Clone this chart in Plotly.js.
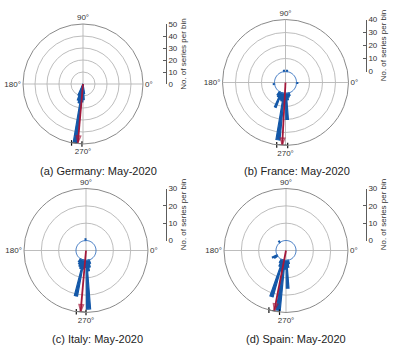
<!DOCTYPE html>
<html>
<head>
<meta charset="utf-8">
<script src="https://cdn.plot.ly/plotly-3.0.1.min.js"></script>
<style>html,body{margin:0;padding:0;background:#fff}#chart{width:404px;height:356px}</style>
</head>
<body>
<div id="chart"></div>
<script>
// ---- data ----
const binWidth = 5; // degrees per bin

const germanyAngles = [247.5, 252.5, 257.5, 262.5, 267.5, 272.5, 277.5];
const germanyCounts = [10, 14, 16, 49, 15, 13, 8];

const franceAngles = [82.5, 97.5, 187.5, 237.5, 242.5, 247.5, 252.5, 257.5, 262.5, 267.5, 272.5, 277.5, 282.5, 287.5, 357.5];
const franceCounts = [1, 1, 1, 3, 4, 12, 5, 6, 36, 8, 20, 5, 3, 2, 1];

const italyAngles = [92.5, 237.5, 242.5, 247.5, 252.5, 257.5, 262.5, 267.5, 272.5, 277.5, 282.5, 287.5];
const italyCounts = [1, 2, 3, 4, 5, 21, 5, 4, 28, 6, 4, 2];

const spainAngles = [127.5, 207.5, 212.5, 242.5, 247.5, 252.5, 257.5, 262.5, 267.5, 272.5, 277.5, 282.5];
const spainCounts = [1, 3, 2, 2, 4, 22, 6, 29, 5, 16, 4, 2];

const countries = ['Germany', 'France', 'Italy', 'Spain'];
const captionLetters = ['a', 'b', 'c', 'd'];
const captionPeriod = 'May-2020';
const scaleMax = [50, 40, 30, 30];          // max of "No. of series per bin"
const meanDirection = [265, 267, 265, 259];  // red arrow angle (deg)
const meanLength = [49, 39.5, 29.5, 29.5];   // red arrow length (count units)
const ciLow = [259, 262, 261, 254];          // black error bar (deg)
const ciHigh = [269, 272, 270, 264];
const angularTicks = [0, 90, 180, 270];
const angularTickText = ['0°', '90°', '180°', '270°'];
const scaleTitle = 'No. of series per bin';

// ---- layout geometry (pixels) ----
const W = 404, H = 356;
const geom = [
  {cx: 83,    cy: 84,    R: 60, holePx: 0,  axisX: 166, capX: 98,  capY: 171},
  {cx: 285.5, cy: 82.5,  R: 63, holePx: 11, axisX: 366, capX: 297, capY: 171},
  {cx: 86,    cy: 250.5, R: 62, holePx: 10, axisX: 166, capX: 97,  capY: 339},
  {cx: 286,   cy: 250.5, R: 62, holePx: 10, axisX: 366, capX: 296, capY: 339}
];
const anglesList = [germanyAngles, franceAngles, italyAngles, spainAngles];
const countsList = [germanyCounts, franceCounts, italyCounts, spainCounts];

const BLUE = '#1458a8';
const RED = '#a3183a';
const GRID = '#b5b5b5';
const FONT = 'Liberation Sans, Arial, sans-serif';

const traces = [];
const layout = {
  width: W, height: H, autosize: false,
  margin: {l: 0, r: 0, t: 0, b: 0},
  paper_bgcolor: '#fff', plot_bgcolor: '#fff',
  showlegend: false,
  font: {family: FONT, color: '#333'},
  annotations: []
};

geom.forEach((g, i) => {
  const sfx = i === 0 ? '' : String(i + 1);
  const polarId = 'polar' + sfx;
  const max = scaleMax[i];
  const hFrac = g.holePx / g.R;
  const rMin = -hFrac * max / (1 - hFrac);

  // zero baseline circle (bins' inner edge)
  if (g.holePx > 0) {
    const th = [], rr = [];
    for (let a = 0; a <= 360; a += binWidth) { th.push(a); rr.push(0); }
    traces.push({type: 'scatterpolar', subplot: polarId, r: rr, theta: th, mode: 'lines',
      line: {color: '#3a74bf', width: 1}, hoverinfo: 'skip'});
  }
  // histogram bars
  traces.push({type: 'barpolar', subplot: polarId, r: countsList[i], theta: anglesList[i],
    width: binWidth * 0.8, base: 0,
    marker: {color: BLUE, line: {color: BLUE, width: 1.2}}, hoverinfo: 'skip'});
  // confidence interval arc
  traces.push({type: 'scatterpolar', subplot: polarId, r: [max, max], theta: [ciLow[i], ciHigh[i]],
    mode: 'lines+markers', cliponaxis: false,
    line: {color: '#111', width: 1.4},
    marker: {symbol: 'line-ns-open', size: 4, color: '#111', line: {color: '#111', width: 1.2}},
    hoverinfo: 'skip'});
  // mean direction arrow
  traces.push({type: 'scatterpolar', subplot: polarId, r: [rMin, meanLength[i]],
    theta: [meanDirection[i], meanDirection[i]], mode: 'lines+markers', cliponaxis: false,
    line: {color: RED, width: 1.8},
    marker: {symbol: 'arrow-open', size: [0, 7], angleref: 'previous', color: RED,
             line: {color: RED, width: 1.5}},
    hoverinfo: 'skip'});

  const grid = [];
  for (let v = 10; v < max; v += 10) grid.push(v);
  layout[polarId] = {
    domain: {x: [(g.cx - g.R) / W, (g.cx + g.R) / W], y: [1 - (g.cy + g.R) / H, 1 - (g.cy - g.R) / H]},
    bgcolor: '#fff',
    radialaxis: {range: [rMin, max], tickmode: 'array', tickvals: grid, showticklabels: false,
      ticks: '', showline: false, gridcolor: GRID, gridwidth: 0.9},
    angularaxis: {tickmode: 'array', tickvals: angularTicks, ticktext: angularTickText,
      direction: 'counterclockwise', rotation: 0,
      ticks: '', showline: true, linecolor: '#8a8a8a', linewidth: 1, gridcolor: GRID, gridwidth: 0.9,
      tickfont: {size: 8, color: '#333', family: FONT}}
  };

  // separate scale: "No. of series per bin"
  const xa = 'xaxis' + sfx, ya = 'yaxis' + sfx;
  const scaleTicks = [];
  for (let v = 0; v <= max; v += 10) scaleTicks.push(v);
  traces.push({type: 'scatter', x: [0, 0], y: [0, max], xaxis: 'x' + sfx, yaxis: 'y' + sfx,
    mode: 'none', hoverinfo: 'skip'});
  layout[xa] = {domain: [(g.axisX - 4) / W, g.axisX / W], visible: false, fixedrange: true,
    anchor: 'y' + sfx, range: [-1, 1]};
  layout[ya] = {domain: [1 - (g.cy - g.holePx) / H, 1 - (g.cy - g.R) / H], anchor: 'x' + sfx,
    side: 'right', range: [0, max], tickmode: 'array', tickvals: scaleTicks,
    ticks: 'inside', ticklen: 3, tickwidth: 0.8, tickcolor: '#333',
    showline: true, linecolor: '#333', linewidth: 0.8, showgrid: false, zeroline: false,
    tickfont: {size: 8, color: '#333', family: FONT},
    title: {text: scaleTitle, font: {size: 8, color: '#333', family: FONT}, standoff: 3}};

  layout.annotations.push({xref: 'paper', yref: 'paper', x: g.capX / W, y: 1 - g.capY / H,
    xanchor: 'center', yanchor: 'middle', showarrow: false,
    text: '(' + captionLetters[i] + ') ' + countries[i] + ': ' + captionPeriod,
    font: {size: 11, color: '#222', family: FONT}});
});

Plotly.newPlot('chart', traces, layout, {staticPlot: true, displayModeBar: false});
</script>
</body>
</html>
